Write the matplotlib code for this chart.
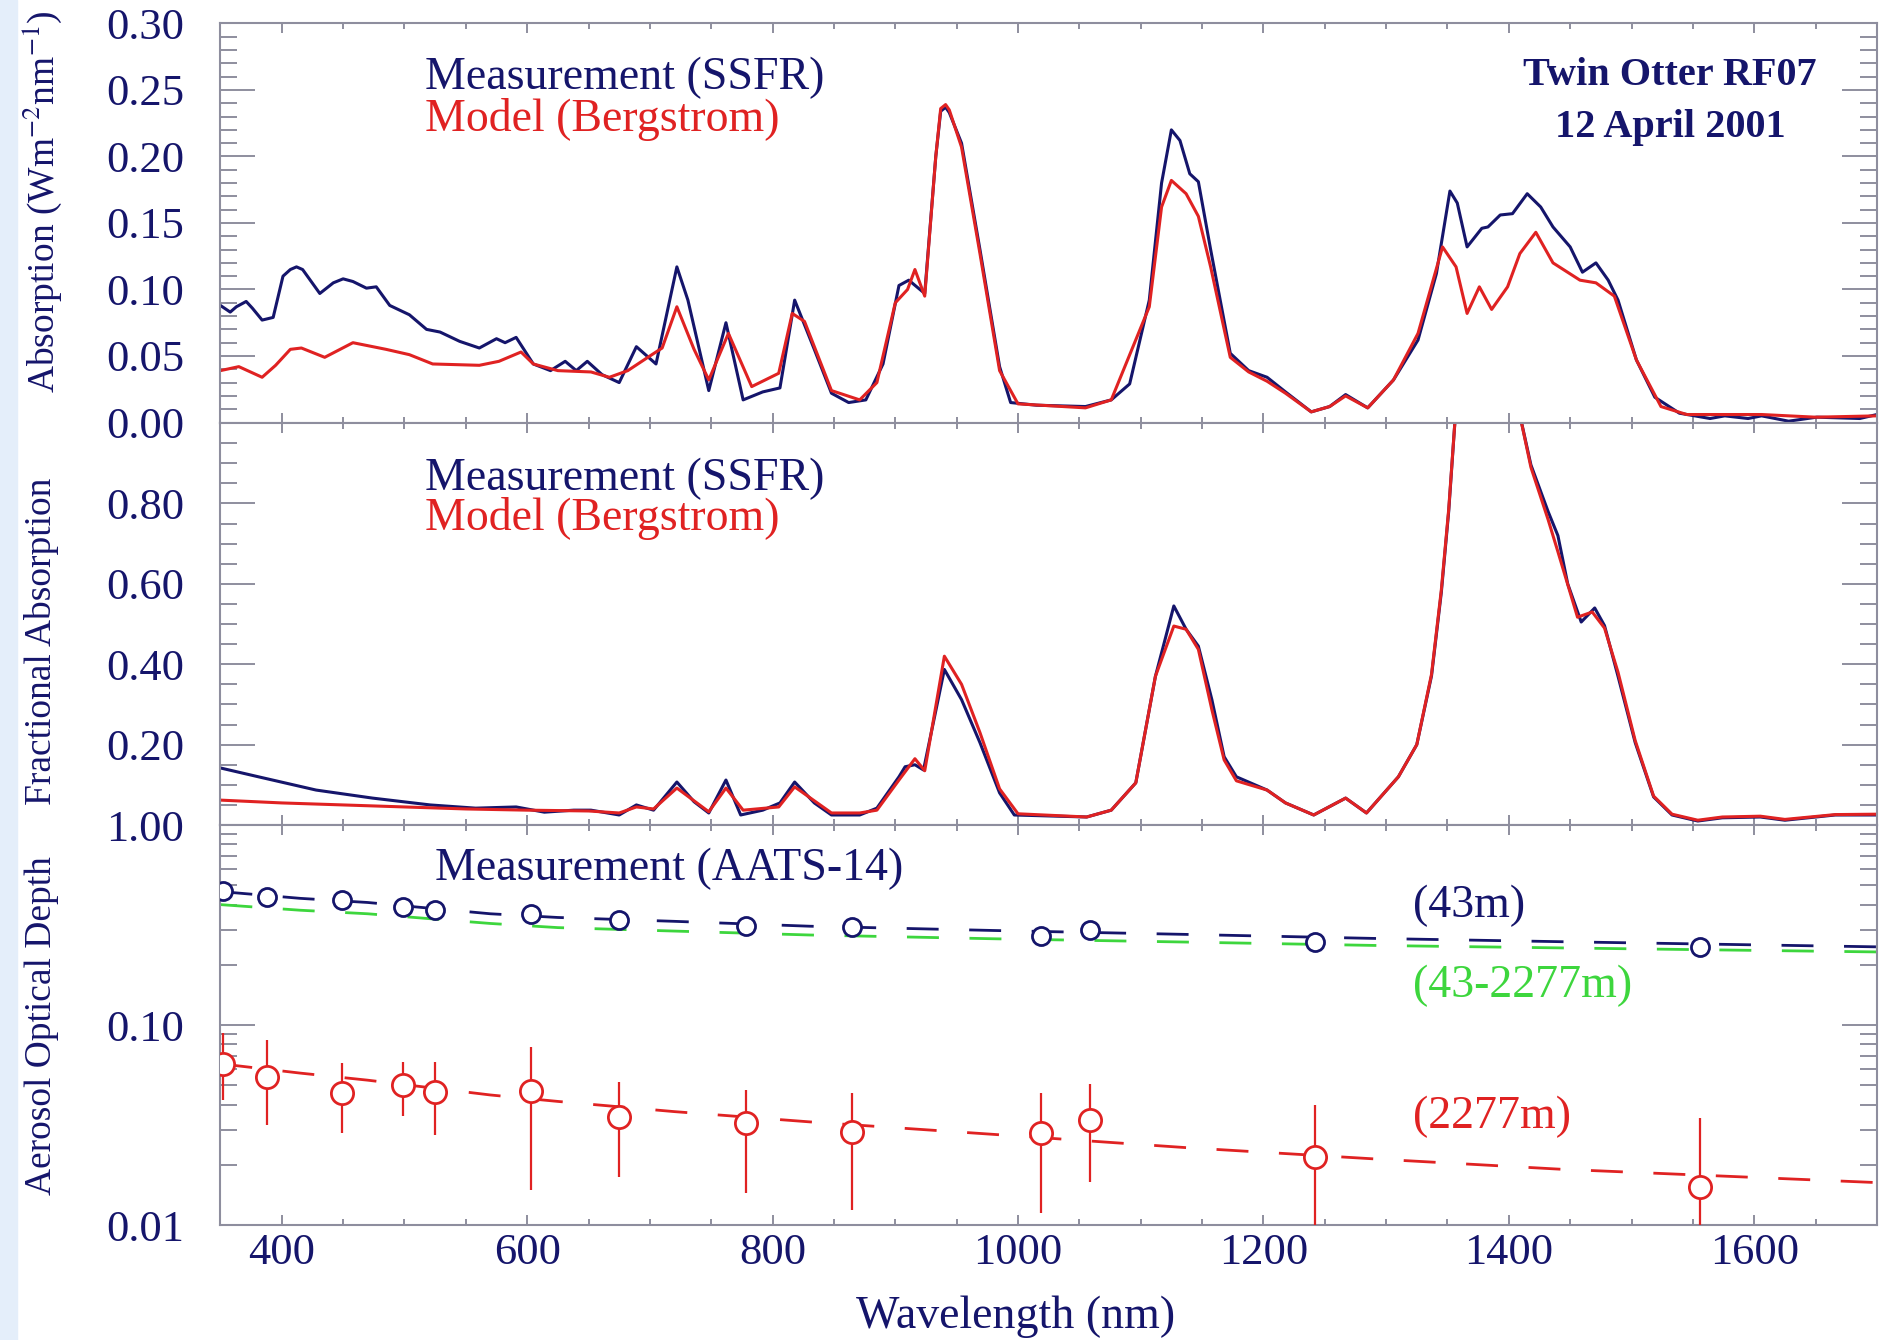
import numpy as np
import matplotlib.pyplot as plt
from matplotlib.patches import Rectangle
from matplotlib.ticker import MultipleLocator, FixedLocator, FuncFormatter, LogLocator, NullFormatter

plt.rcParams['font.family'] = ['Liberation Serif', 'DejaVu Serif']
plt.rcParams['mathtext.fontset'] = 'stix'

NAVY = '#15156b'
RED = '#e02222'
GREEN = '#3dd63d'
FRAME = '#8e8e9e'

# --- top panel: absorption (W m-2 nm-1)
abs_ssfr_wl = [350, 358, 363, 371, 376, 384, 393, 401, 407, 412, 417, 431, 442, 450, 458, 469, 477,
               488, 504, 518, 529, 545, 561, 575, 582, 591, 605, 619, 631, 640, 649, 661, 675, 689,
               705, 722, 731, 748, 762, 776, 792, 806, 818, 834, 848, 862, 876, 890, 903, 911, 924,
               933, 937, 941, 944, 954, 969, 985, 994, 1015, 1055, 1076, 1091, 1107, 1117, 1125, 1132,
               1140, 1147, 1157, 1173, 1188, 1203, 1218, 1239, 1254, 1267, 1285, 1306, 1326, 1341,
               1352, 1358, 1366, 1378, 1383, 1393, 1403, 1415, 1426, 1436, 1450, 1460, 1471, 1481,
               1489, 1504, 1519, 1539, 1564, 1576, 1595, 1606, 1628, 1651, 1686, 1700]
abs_ssfr = [0.088, 0.083, 0.087, 0.091, 0.086, 0.077, 0.079, 0.110, 0.115, 0.117, 0.115, 0.097, 0.105,
            0.108, 0.106, 0.101, 0.102, 0.088, 0.081, 0.070, 0.068, 0.061, 0.056, 0.063, 0.060, 0.064,
            0.044, 0.039, 0.046, 0.039, 0.046, 0.036, 0.030, 0.057, 0.044, 0.117, 0.092, 0.024, 0.075,
            0.017, 0.023, 0.026, 0.092, 0.055, 0.022, 0.015, 0.017, 0.044, 0.103, 0.107, 0.097, 0.200,
            0.234, 0.237, 0.233, 0.210, 0.130, 0.042, 0.015, 0.013, 0.012, 0.017, 0.029, 0.092, 0.180,
            0.220, 0.212, 0.187, 0.181, 0.130, 0.052, 0.039, 0.034, 0.023, 0.008, 0.012, 0.021, 0.011,
            0.032, 0.062, 0.112, 0.174, 0.165, 0.132, 0.146, 0.147, 0.156, 0.157, 0.172, 0.162, 0.147,
            0.132, 0.113, 0.120, 0.107, 0.092, 0.047, 0.019, 0.007, 0.003, 0.005, 0.003, 0.005, 0.001,
            0.004, 0.003, 0.006]

abs_model_wl = [350, 365, 384, 395, 407, 416, 435, 458, 485, 504, 523, 561, 577, 595, 605, 625, 652,
                667, 682, 700, 710, 722, 736, 748, 764, 783, 805, 816, 826, 848, 871, 885, 900, 910,
                916, 924, 933, 937, 941, 944, 954, 969, 985, 1000, 1055, 1076, 1107, 1117, 1125, 1137,
                1147, 1157, 1173, 1188, 1203, 1218, 1239, 1254, 1267, 1285, 1306, 1326, 1346, 1357,
                1366, 1376, 1386, 1399, 1409, 1422, 1436, 1458, 1471, 1486, 1504, 1524, 1545, 1576,
                1606, 1650, 1700]
abs_model = [0.039, 0.042, 0.034, 0.043, 0.055, 0.056, 0.049, 0.060, 0.055, 0.051, 0.044, 0.043, 0.046,
             0.053, 0.044, 0.039, 0.038, 0.034, 0.039, 0.050, 0.056, 0.087, 0.055, 0.032, 0.067, 0.027,
             0.037, 0.082, 0.076, 0.024, 0.017, 0.030, 0.090, 0.100, 0.115, 0.095, 0.200, 0.236, 0.239,
             0.235, 0.207, 0.127, 0.039, 0.014, 0.011, 0.017, 0.087, 0.162, 0.182, 0.172, 0.155, 0.117,
             0.049, 0.038, 0.031, 0.022, 0.008, 0.012, 0.020, 0.011, 0.032, 0.067, 0.132, 0.117, 0.082,
             0.102, 0.085, 0.102, 0.127, 0.143, 0.120, 0.107, 0.105, 0.095, 0.047, 0.012, 0.006, 0.006,
             0.006, 0.004, 0.005]

# --- middle panel: fractional absorption
frac_ssfr_wl = [350, 381, 428, 474, 521, 558, 591, 614, 638, 652, 675, 689, 703, 722, 736, 748, 762,
                774, 792, 806, 818, 834, 848, 871, 885, 903, 908, 916, 923, 940, 954, 969, 985, 997,
                1056, 1076, 1096, 1112, 1127, 1137, 1147, 1158, 1168, 1178, 1203, 1218, 1241, 1267,
                1284, 1310, 1325, 1337, 1345, 1351, 1356, 1370, 1395, 1409, 1418, 1432, 1440, 1448,
                1459, 1470, 1478, 1489, 1503, 1518, 1533, 1554, 1574, 1605, 1625, 1666, 1700]
frac_ssfr = [0.142, 0.120, 0.087, 0.067, 0.050, 0.042, 0.045, 0.032, 0.037, 0.037, 0.025, 0.050, 0.037,
             0.107, 0.058, 0.030, 0.112, 0.025, 0.037, 0.055, 0.107, 0.055, 0.025, 0.025, 0.042, 0.120,
             0.145, 0.150, 0.137, 0.387, 0.312, 0.205, 0.080, 0.025, 0.020, 0.037, 0.105, 0.370, 0.545,
             0.487, 0.445, 0.312, 0.170, 0.120, 0.087, 0.055, 0.025, 0.067, 0.030, 0.120, 0.200, 0.371,
             0.579, 0.780, 1.000, 1.200, 1.200, 1.020, 0.896, 0.780, 0.720, 0.600, 0.505, 0.540, 0.496,
             0.370, 0.205, 0.070, 0.025, 0.010, 0.018, 0.020, 0.012, 0.025, 0.025]

frac_model_wl = [350, 400, 450, 500, 550, 600, 650, 675, 689, 703, 722, 748, 762, 776, 805, 818, 848,
                 871, 885, 903, 916, 924, 940, 954, 969, 985, 1000, 1056, 1076, 1096, 1112, 1127,
                 1137, 1147, 1158, 1168, 1178, 1203, 1218, 1241, 1267, 1284, 1310, 1325, 1337, 1345,
                 1351, 1356, 1370, 1395, 1409, 1418, 1432, 1440, 1456, 1468, 1478, 1489, 1503, 1518,
                 1533, 1554, 1574, 1605, 1625, 1666, 1700]
frac_model = [0.062, 0.055, 0.050, 0.045, 0.040, 0.037, 0.035, 0.030, 0.045, 0.040, 0.092, 0.033, 0.092,
              0.037, 0.045, 0.095, 0.030, 0.030, 0.037, 0.112, 0.165, 0.135, 0.420, 0.350, 0.230, 0.090,
              0.028, 0.020, 0.037, 0.105, 0.370, 0.495, 0.487, 0.437, 0.287, 0.162, 0.110, 0.087, 0.055,
              0.025, 0.067, 0.030, 0.120, 0.200, 0.375, 0.585, 0.785, 1.000, 1.200, 1.200, 1.020, 0.890,
              0.760, 0.680, 0.517, 0.530, 0.490, 0.380, 0.210, 0.072, 0.027, 0.012, 0.020, 0.022, 0.014,
              0.026, 0.027]

# --- bottom panel: AATS-14 aerosol optical depth
aats_wl = [352, 388, 449, 499, 525, 603, 675, 778, 865, 1019, 1059, 1242, 1556]
aod_43m = [0.468, 0.438, 0.422, 0.388, 0.376, 0.358, 0.335, 0.313, 0.310, 0.280, 0.297, 0.261, 0.246]
aod_2277m = [0.0638, 0.0551, 0.0459, 0.0501, 0.0464, 0.0470, 0.0348, 0.0325, 0.0293, 0.0290, 0.0335,
             0.0220, 0.0155]
aod_2277m_hi = [0.091, 0.0841, 0.0647, 0.0655, 0.0655, 0.0779, 0.0521, 0.0473, 0.0459, 0.0457, 0.0507,
                0.0398, 0.0342]
aod_2277m_lo = [0.042, 0.0316, 0.0288, 0.0351, 0.0282, 0.0150, 0.0174, 0.0145, 0.0119, 0.0115, 0.0165,
                0.008, 0.007]

fit_wl = [350, 415, 470, 570, 625, 720, 830, 980, 1136, 1291, 1443, 1700]
fit_43m = [0.465, 0.430, 0.410, 0.360, 0.345, 0.330, 0.312, 0.297, 0.284, 0.271, 0.261, 0.246]
fit_layer = [0.400, 0.375, 0.360, 0.322, 0.307, 0.295, 0.282, 0.270, 0.260, 0.250, 0.243, 0.232]
fit_2277m = [0.0640, 0.0575, 0.0530, 0.0447, 0.0415, 0.0369, 0.0328, 0.0284, 0.0244, 0.0214, 0.0190,
             0.0163]


def px(x, y):
    return x / 1879, 1 - y / 1340


def style(ax):
    for s in ax.spines.values():
        s.set_color(FRAME)
        s.set_linewidth(1.5)
    ax.tick_params(which='both', direction='in', top=True, right=True, color=FRAME,
                   labelcolor=NAVY, width=1.4, labelsize=32)
    ax.tick_params(axis='y', which='major', length=25, pad=26)
    ax.tick_params(axis='y', which='minor', length=12)
    ax.tick_params(axis='x', which='major', length=7, pad=6)
    ax.tick_params(axis='x', which='minor', length=4)
    ax.set_xlim(350, 1700)
    ax.xaxis.set_major_locator(MultipleLocator(200))
    ax.xaxis.set_minor_locator(MultipleLocator(50))


fig = plt.figure(figsize=(18.79, 13.40), dpi=100)
fig.add_artist(Rectangle((0, 0), 0.009, 1, transform=fig.transFigure, color='#e4eefa', zorder=0))

ax1 = fig.add_axes([0.1173, 0.6847, 0.8816, 0.2978])
ax2 = fig.add_axes([0.1173, 0.3843, 0.8816, 0.3000])
ax3 = fig.add_axes([0.1173, 0.0858, 0.8816, 0.2985])

# top
ax1.plot(abs_ssfr_wl, abs_ssfr, color=NAVY, lw=2.2)
ax1.plot(abs_model_wl, abs_model, color=RED, lw=2.2)
style(ax1)
ax1.set_ylim(0, 0.30)
ax1.yaxis.set_major_locator(MultipleLocator(0.05))
ax1.yaxis.set_minor_locator(MultipleLocator(0.01))
ax1.yaxis.set_major_formatter(FuncFormatter(lambda v, p: '%.2f' % v))
ax1.tick_params(axis='x', labelbottom=False)
ax1.set_ylabel(r'Absorption (Wm$^{-2}$nm$^{-1}$)', fontsize=27, color=NAVY)
ax1.yaxis.set_label_coords(-0.1077, 0.553)
ax1.yaxis.label.set_va('center')

# middle
ax2.plot(frac_ssfr_wl, frac_ssfr, color=NAVY, lw=2.2)
ax2.plot(frac_model_wl, frac_model, color=RED, lw=2.2)
style(ax2)
ax2.set_ylim(0, 1.0)
ax2.yaxis.set_major_locator(FixedLocator([0, 0.2, 0.4, 0.6, 0.8, 1.0]))
ax2.yaxis.set_minor_locator(MultipleLocator(0.05))
ax2.yaxis.set_major_formatter(FuncFormatter(lambda v, p: '%.2f' % v if 0.1 < v < 0.9 else ''))
ax2.tick_params(axis='x', labelbottom=False)
ax2.set_ylabel('Fractional Absorption', fontsize=27, color=NAVY)
ax2.yaxis.set_label_coords(-0.1077, 0.458)
ax2.yaxis.label.set_va('center')

# bottom
ax3.set_yscale('log')
ax3.plot(fit_wl, fit_layer, color=GREEN, lw=2, dashes=(11.5, 11))
ax3.plot(fit_wl, fit_43m, color=NAVY, lw=2, dashes=(11.5, 11))
ax3.plot(fit_wl, fit_2277m, color=RED, lw=2, dashes=(11.5, 11))
ax3.vlines(aats_wl, aod_2277m_lo, aod_2277m_hi, color=RED, lw=1.6, zorder=3)
ax3.plot(aats_wl, aod_43m, 'o', ms=13, mfc='white', mec=NAVY, mew=2, zorder=4)
ax3.plot(aats_wl, aod_2277m, 'o', ms=16, mfc='white', mec=RED, mew=2, zorder=4)
style(ax3)
ax3.set_ylim(0.01, 1.0)
ax3.yaxis.set_major_locator(FixedLocator([0.01, 0.1, 1.0]))
ax3.yaxis.set_major_formatter(FuncFormatter(lambda v, p: '%.2f' % v))
ax3.yaxis.set_minor_locator(LogLocator(base=10, subs=np.arange(2, 10)))
ax3.yaxis.set_minor_formatter(NullFormatter())
ax3.set_ylabel('Aerosol Optical Depth', fontsize=27, color=NAVY)
ax3.yaxis.set_label_coords(-0.1077, 0.4975)
ax3.yaxis.label.set_va('center')
ax3.set_xlabel('Wavelength (nm)', fontsize=33, color=NAVY)
ax3.xaxis.set_label_coords(0.48, -0.2575)
ax3.xaxis.label.set_va('baseline')

# annotations
fs = 33
fig.text(*px(425, 89), 'Measurement (SSFR)', color=NAVY, fontsize=fs, va='baseline')
fig.text(*px(425, 131), 'Model (Bergstrom)', color=RED, fontsize=fs, va='baseline')
fig.text(*px(425, 490), 'Measurement (SSFR)', color=NAVY, fontsize=fs, va='baseline')
fig.text(*px(425, 530), 'Model (Bergstrom)', color=RED, fontsize=fs, va='baseline')
fig.text(*px(435, 880), 'Measurement (AATS-14)', color=NAVY, fontsize=fs, va='baseline')
fig.text(*px(1413, 917), '(43m)', color=NAVY, fontsize=fs, va='baseline')
fig.text(*px(1413, 997), '(43-2277m)', color=GREEN, fontsize=fs, va='baseline')
fig.text(*px(1413, 1128), '(2277m)', color=RED, fontsize=fs, va='baseline')
fig.text(*px(1670, 85), 'Twin Otter RF07', color=NAVY, fontsize=29, fontweight='bold',
         ha='center', va='baseline')
fig.text(*px(1670, 137), '12 April 2001', color=NAVY, fontsize=29, fontweight='bold',
         ha='center', va='baseline')

fig.savefig('out.png', dpi=100)
